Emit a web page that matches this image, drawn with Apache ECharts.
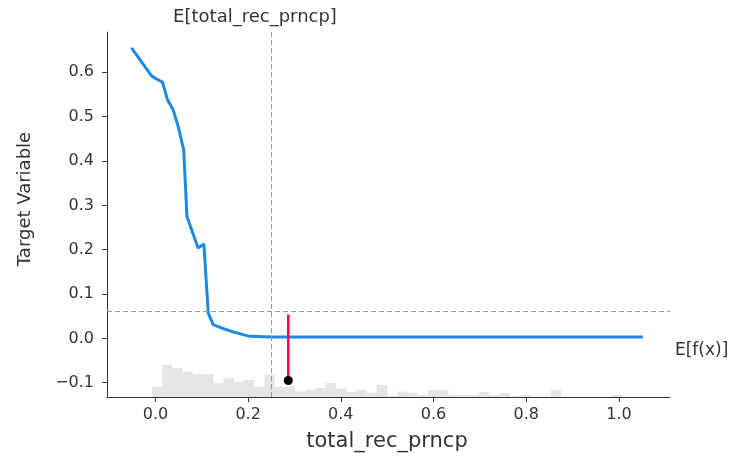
<!DOCTYPE html>
<html><head><meta charset="utf-8">
<script src="https://cdn.jsdelivr.net/npm/echarts@6/dist/echarts.min.js"></script>
<style>html,body{margin:0;padding:0;background:#fff}#c{width:730px;height:457px}</style>
</head><body><div id="c"></div>
<script>
// Partial dependence line (feature value, target)
const lineX = [-0.0516, -0.0084, 0.0024, 0.0153, 0.026, 0.038, 0.049, 0.061, 0.068, 0.092, 0.1045, 0.114, 0.1245, 0.1426, 0.171, 0.2037, 0.25, 1.0516];
const lineY = [0.655, 0.592, 0.585, 0.578, 0.538, 0.516, 0.478, 0.425, 0.275, 0.204, 0.213, 0.057, 0.031, 0.0234, 0.0135, 0.0045, 0.003, 0.003];
// Histogram of the feature (50 bins)
const histStart = -0.0516;
const histBinWidth = 0.02206;
const histCounts = [0, 0, 10.3, 32, 29, 25.3, 22.7, 22.7, 13.7, 18.7, 15.3, 17, 10.3, 22.7, 10.3, 10.3, 5.7, 7.3, 9, 14,
  8.7, 5, 7, 4, 12, 1, 5.3, 4, 2, 7, 7, 1.7, 1.7, 1.7, 5, 1.7, 4, 0.7, 2, 0.5, 0.5, 7, 0, 0, 0, 0, 0, 2, 0, 0];
const histScaleMax = 365;
// Ticks
const xTicks = [0, 0.2, 0.4, 0.6, 0.8, 1.0];
const yTicks = [-0.1, 0, 0.1, 0.2, 0.3, 0.4, 0.5, 0.6];
// Reference values
const featureMean = 0.248;
const expectedValue = 0.0633;
const sampleX = 0.2866;
const sampleTop = 0.054;
const sampleValue = -0.095;
// Texts
const featureName = 'total_rec_prncp';
const yName = 'Target Variable';
const topLabel = 'E[total_rec_prncp]';
const rightLabel = 'E[f(x)]';

const FONT = '"DejaVu Sans", sans-serif';
const TXT = '#333333';

const lineData = lineX.map((x, i) => [x, lineY[i]]);
const histData = histCounts.map((c, i) => [histStart + i * histBinWidth, histStart + (i + 1) * histBinWidth, c]);
const fmt = v => (Math.round(v * 10) / 10).toFixed(1).replace('-', '\u2212');

const chart = echarts.init(document.getElementById('c'), null, {renderer: 'canvas'});
chart.setOption({
  animation: false,
  backgroundColor: '#ffffff',
  textStyle: {fontFamily: FONT},
  grid: {left: 107, right: 60, top: 32, bottom: 60},
  xAxis: {
    type: 'value', min: -0.1045, max: 1.1102,
    splitLine: {show: false},
    axisLine: {onZero: false, lineStyle: {color: TXT, width: 1}},
    axisTick: {show: true, length: 5, customValues: xTicks, lineStyle: {color: TXT}},
    axisLabel: {customValues: xTicks, formatter: fmt, fontSize: 16, color: TXT, fontFamily: FONT, margin: 10}
  },
  yAxis: [{
    type: 'value', min: -0.1323, max: 0.691,
    splitLine: {show: false},
    axisLine: {show: true, onZero: false, lineStyle: {color: TXT, width: 1}},
    axisTick: {show: true, length: 5, customValues: yTicks, lineStyle: {color: TXT}},
    axisLabel: {customValues: yTicks, formatter: fmt, fontSize: 16, color: TXT, fontFamily: FONT, margin: 13}
  }, {
    type: 'value', min: 0, max: histScaleMax, show: false, splitLine: {show: false}
  }],
  graphic: [
    {type: 'text', x: 255, y: 17, style: {text: topLabel, font: '18px ' + FONT, fill: TXT, align: 'center', verticalAlign: 'middle'}},
    {type: 'text', x: 675, y: 351, style: {text: rightLabel, font: '17px ' + FONT, fill: TXT, align: 'left', verticalAlign: 'middle'}},
    {type: 'text', x: 387, y: 442, style: {text: featureName, font: '21px ' + FONT, fill: TXT, align: 'center', verticalAlign: 'middle'}},
    {type: 'text', x: 25, y: 199, rotation: Math.PI / 2, style: {text: yName, font: '18px ' + FONT, fill: TXT, align: 'center', verticalAlign: 'middle'}}
  ],
  series: [
    {
      type: 'custom', xAxisIndex: 0, yAxisIndex: 1, z: 1, silent: true,
      data: histData,
      encode: {x: [0, 1], y: 2},
      renderItem: function (params, api) {
        const p0 = api.coord([api.value(0), 0]);
        const p1 = api.coord([api.value(1), api.value(2)]);
        return {type: 'rect', shape: {x: p0[0], y: p1[1], width: p1[0] - p0[0], height: p0[1] - p1[1]},
          style: {fill: 'rgba(0,0,0,0.1)'}};
      }
    },
    {
      type: 'line', z: 2, silent: true, data: [],
      markLine: {
        silent: true, symbol: ['none', 'none'], label: {show: false},
        lineStyle: {type: [5, 3], color: '#999999', width: 1},
        data: [{xAxis: featureMean}, {yAxis: expectedValue}]
      }
    },
    {
      type: 'line', z: 3, data: lineData, symbol: 'none', showSymbol: false,
      lineStyle: {color: '#1E88E5', width: 3}
    },
    {
      type: 'line', z: 4, data: [[sampleX, sampleTop], [sampleX, sampleValue]], symbol: 'none',
      lineStyle: {color: '#ff0052', width: 2.5}
    },
    {
      type: 'scatter', z: 5, data: [[sampleX, sampleValue]], symbol: 'circle', symbolSize: 9,
      itemStyle: {color: '#000000', opacity: 1}
    }
  ]
});
</script></body></html>
